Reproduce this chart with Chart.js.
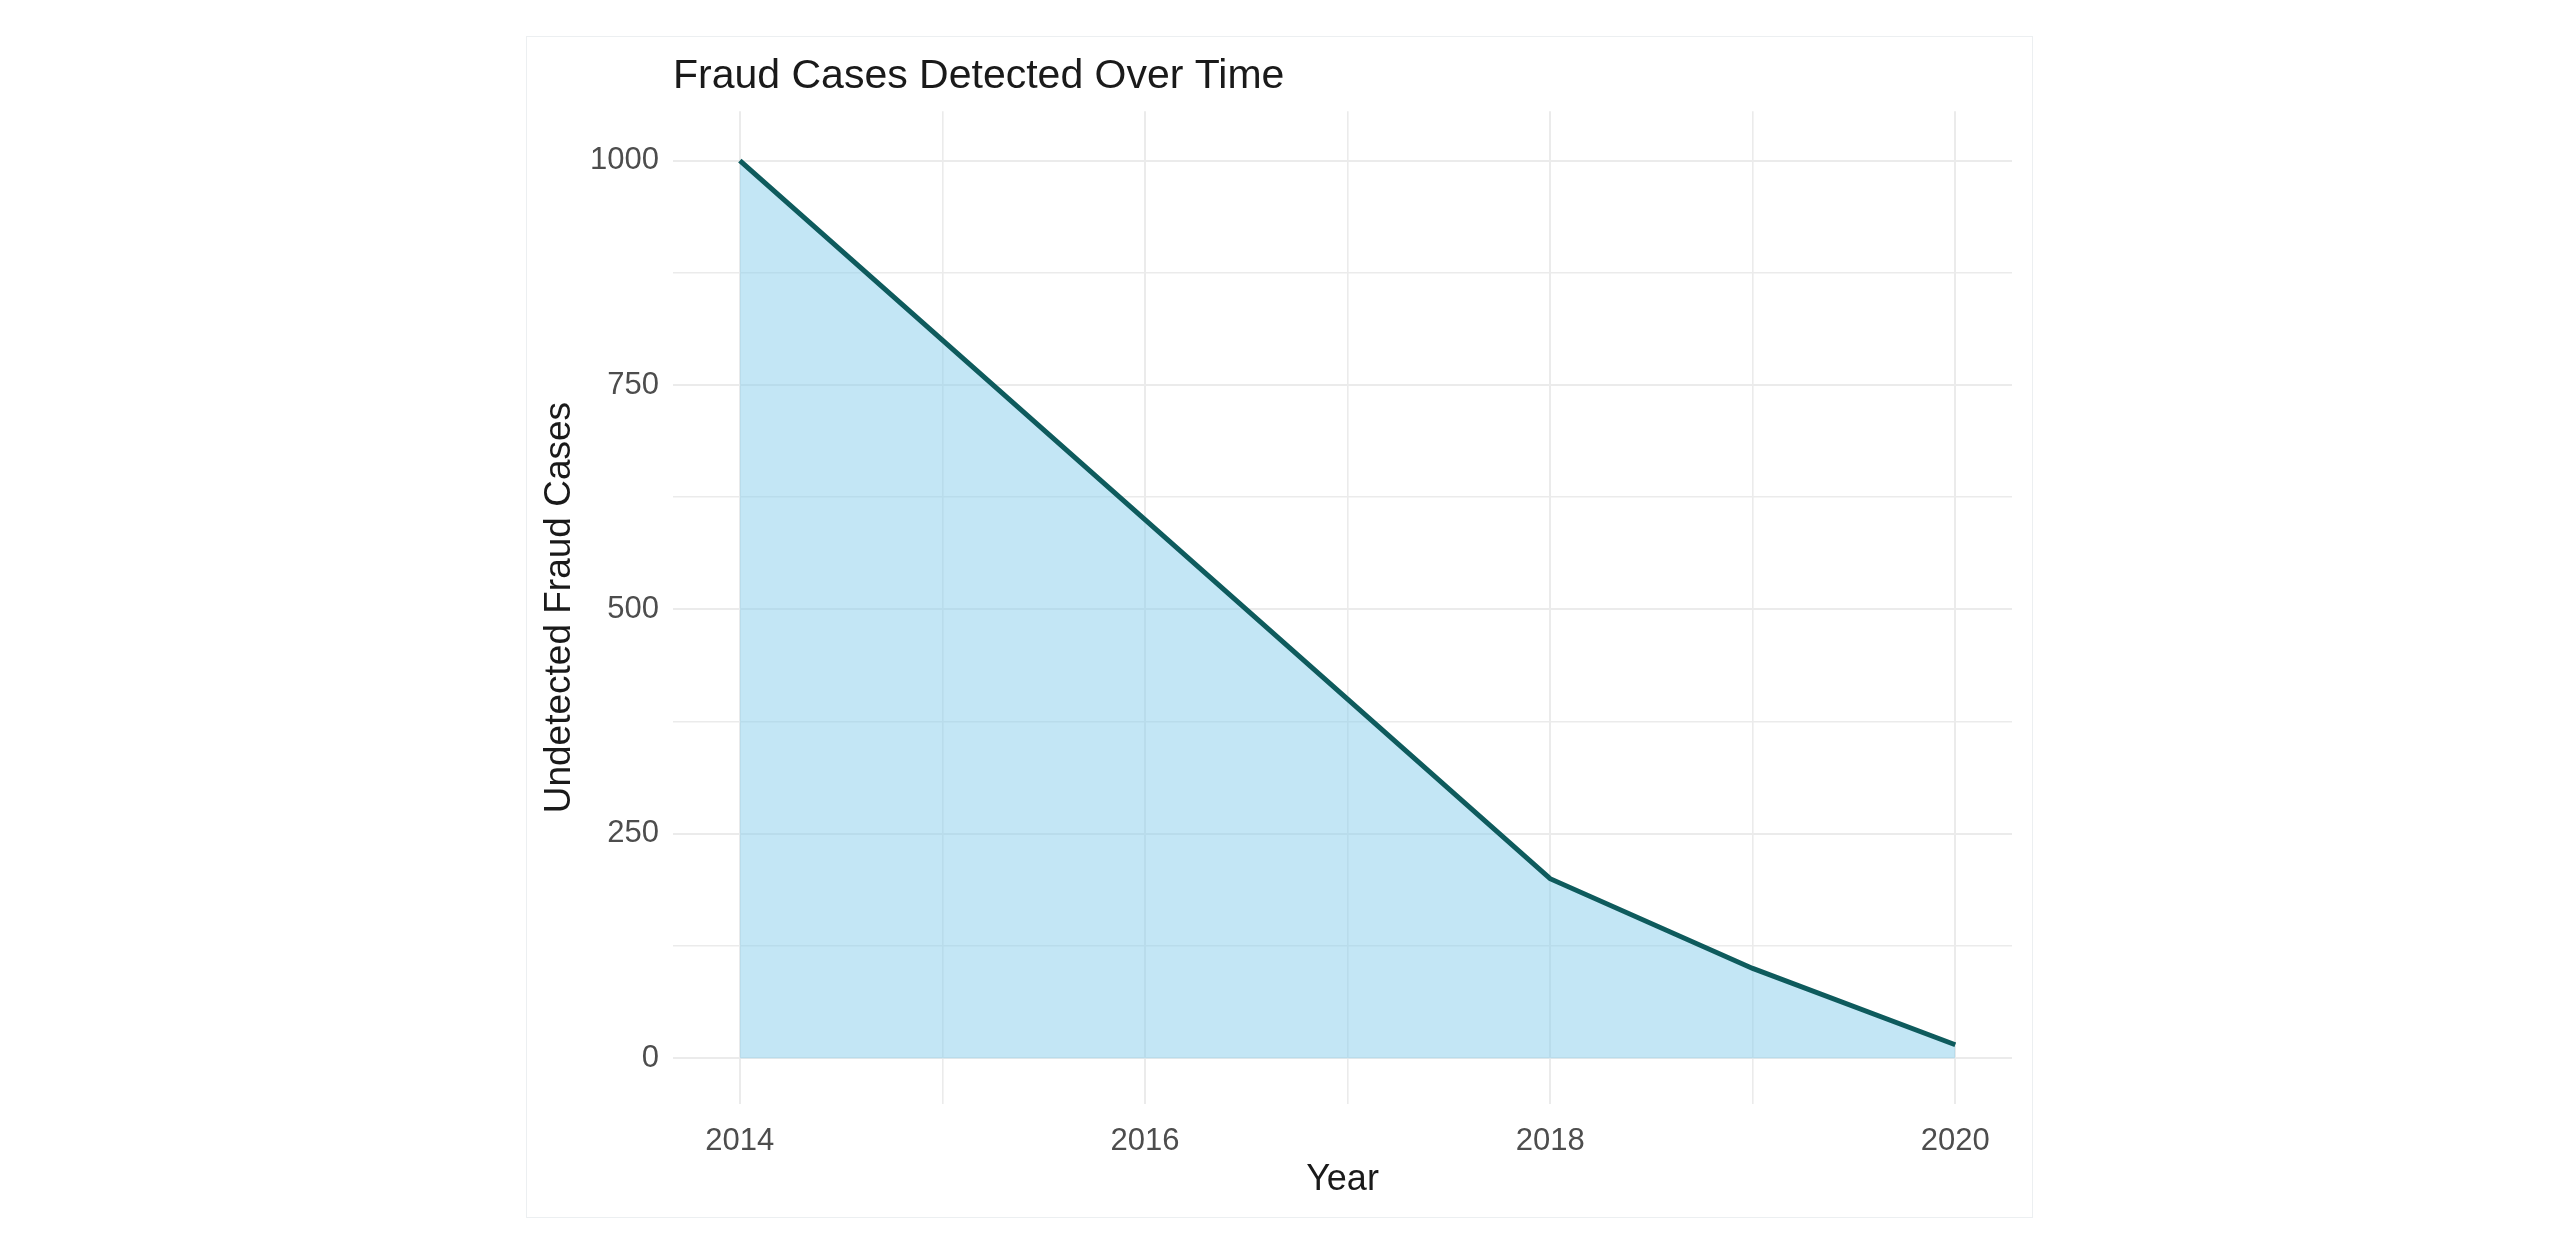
<!DOCTYPE html>
<html>
<head>
<meta charset="utf-8">
<script src="https://cdn.jsdelivr.net/npm/chart.js@4.4.1/dist/chart.umd.min.js"></script>
<style>
  body { margin: 0; background: #fff; }
  #frame {
    position: absolute;
    left: 526px; top: 36px;
    width: 1505px; height: 1180px;
    border: 1px solid #eceff1;
  }
</style>
</head>
<body>
<div id="frame"><canvas id="grafica"></canvas></div>
<script>
// data
const years = [2014, 2015, 2016, 2017, 2018, 2019, 2020];
const undetected = [1000, 800, 600, 400, 200, 100, 15];

// tick / grid values
const xGridYears = [2014, 2015, 2016, 2017, 2018, 2019, 2020];
const xLabelYears = [2014, 2016, 2018, 2020];
const yGridValues = [0, 125, 250, 375, 500, 625, 750, 875, 1000];
const yLabelValues = [0, 250, 500, 750, 1000];

const gridColor = '#ebebeb';
const ctx = document.getElementById('grafica').getContext('2d');

const puntos = years.map((y, i) => ({ x: y, y: undetected[i] }));

new Chart(ctx, {
  type: 'line',
  data: {
    datasets: [{
      label: 'Undetected Fraud Cases',
      data: puntos,
      borderColor: '#0e5b5d',
      borderWidth: 5,
      backgroundColor: 'rgba(135, 206, 235, 0.5)',
      fill: 'origin',
      tension: 0,
      pointRadius: 0
    }]
  },
  options: {
    responsive: true,
    maintainAspectRatio: false,
    animation: false,
    layout: { padding: { left: 0, right: 20, top: 0, bottom: 0 } },
    plugins: {
      legend: { display: false },
      tooltip: { enabled: false },
      title: {
        display: true,
        text: 'Fraud Cases Detected Over Time',
        align: 'start',
        fullSize: false,
        color: '#1a1a1a',
        font: { family: 'Liberation Sans, Arial, sans-serif', size: 41, weight: 'normal' },
        padding: { top: 15, bottom: 10 }
      }
    },
    scales: {
      x: {
        type: 'linear',
        min: 2013.67,
        max: 2020.28,
        afterBuildTicks: s => { s.ticks = xGridYears.map(v => ({ value: v })); },
        afterFit: s => { s.height = 113; },
        border: { display: false },
        grid: {
          color: gridColor,
          drawTicks: false,
          lineWidth: c => (xLabelYears.includes(c.tick && c.tick.value) ? 2 : 1.6)
        },
        ticks: {
          autoSkip: false,
          maxRotation: 0,
          padding: 19,
          color: '#4d4d4d',
          font: { family: 'Liberation Sans, Arial, sans-serif', size: 31 },
          callback: v => (xLabelYears.includes(v) ? String(v) : '')
        },
        title: {
          display: true,
          text: 'Year',
          color: '#1a1a1a',
          font: { family: 'Liberation Sans, Arial, sans-serif', size: 36 },
          padding: { top: 15, bottom: 15 }
        }
      },
      y: {
        min: -51,
        max: 1055,
        afterBuildTicks: s => { s.ticks = yGridValues.map(v => ({ value: v })); },
        afterFit: s => { s.width = 146; },
        border: { display: false },
        grid: {
          color: gridColor,
          drawTicks: false,
          lineWidth: c => (yLabelValues.includes(c.tick && c.tick.value) ? 2 : 1.6)
        },
        ticks: {
          autoSkip: false,
          padding: 14,
          color: '#4d4d4d',
          font: { family: 'Liberation Sans, Arial, sans-serif', size: 31 },
          callback: v => (yLabelValues.includes(v) ? String(v) : '')
        },
        title: {
          display: true,
          text: 'Undetected Fraud Cases',
          color: '#1a1a1a',
          font: { family: 'Liberation Sans, Arial, sans-serif', size: 37 },
          padding: { top: 11, bottom: 11 }
        }
      }
    }
  }
});
</script>
</body>
</html>
